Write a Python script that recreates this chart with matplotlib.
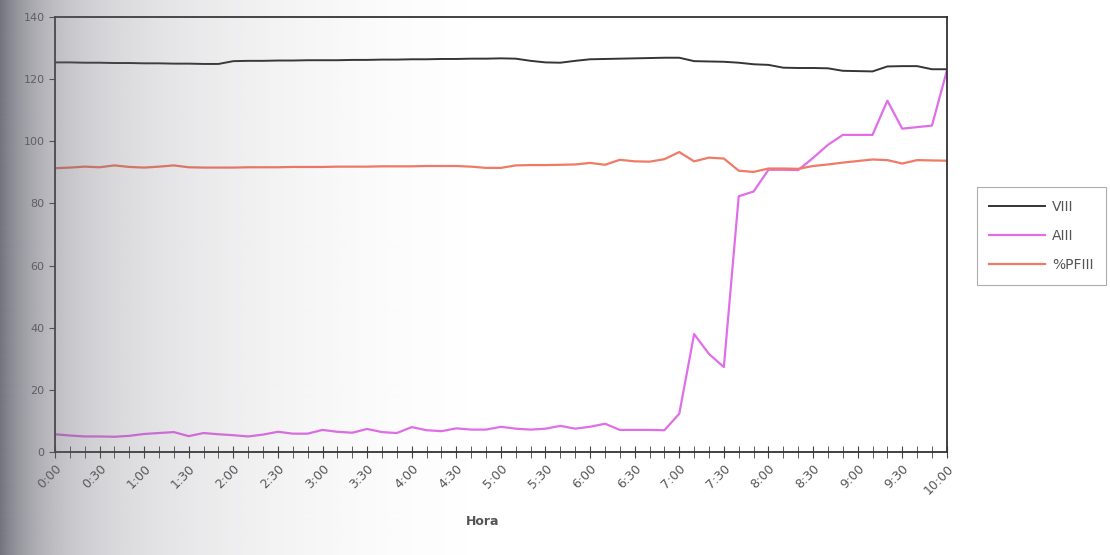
import numpy as np
import matplotlib
matplotlib.use("Agg")
import matplotlib.pyplot as plt

# Categorías: lecturas cada 10 minutos de 0:00 a 10:00
hora = [f"{m // 60}:{m % 60:02d}" for m in range(0, 601, 10)]

v_iii = [125.3, 125.3, 125.2, 125.2, 125.1, 125.1, 125.0, 125.0, 124.9, 124.9,
         124.8, 124.8, 125.7, 125.8, 125.8, 125.9, 125.9, 126.0, 126.0, 126.0,
         126.1, 126.1, 126.2, 126.2, 126.3, 126.3, 126.4, 126.4, 126.5, 126.5,
         126.6, 126.5, 125.8, 125.3, 125.2, 125.8, 126.3, 126.4, 126.5, 126.6,
         126.7, 126.8, 126.8, 125.7, 125.6, 125.5, 125.2, 124.7, 124.5, 123.6,
         123.5, 123.5, 123.4, 122.6, 122.5, 122.4, 124.0, 124.1, 124.1, 123.1,
         123.1]

a_iii = [5.8, 5.4, 5.1, 5.1, 5.0, 5.3, 5.9, 6.2, 6.5, 5.2,
         6.2, 5.8, 5.5, 5.1, 5.7, 6.6, 6.0, 6.0, 7.2, 6.6,
         6.3, 7.5, 6.5, 6.2, 8.1, 7.1, 6.8, 7.7, 7.3, 7.3,
         8.2, 7.6, 7.3, 7.6, 8.5, 7.6, 8.2, 9.2, 7.2, 7.2,
         7.2, 7.1, 12.4, 38.0, 31.6, 27.4, 82.3, 83.8, 90.8, 90.8,
         90.7, 94.6, 98.8, 102.0, 102.0, 102.0, 113.0, 104.0, 104.5, 105.0,
         122.6]

pf_iii = [91.3, 91.5, 91.8, 91.6, 92.2, 91.7, 91.5, 91.8, 92.2, 91.6,
          91.5, 91.5, 91.5, 91.6, 91.6, 91.6, 91.7, 91.7, 91.7, 91.8,
          91.8, 91.8, 91.9, 91.9, 91.9, 92.0, 92.0, 92.0, 91.8, 91.4,
          91.4, 92.2, 92.3, 92.3, 92.4, 92.5, 93.0, 92.4, 94.0, 93.5,
          93.4, 94.2, 96.5, 93.5, 94.7, 94.4, 90.5, 90.1, 91.2, 91.2,
          91.1, 92.0, 92.5, 93.1, 93.6, 94.1, 93.9, 92.8, 93.9, 93.8,
          93.7]

fig = plt.figure(figsize=(11.1, 5.55), dpi=100)
ax = fig.add_axes([0.0495, 0.185, 0.8035, 0.785])

x = np.arange(len(hora))
ax.plot(x, v_iii, color="#353535", lw=1.4, label="VIII")
ax.plot(x, a_iii, color="#e06ee8", lw=1.6, label="AIII")
ax.plot(x, pf_iii, color="#f07a66", lw=1.6, label="%PFIII")

ax.set_xlim(0, len(hora) - 1)
ax.set_ylim(0, 140)
ax.set_yticks(range(0, 141, 20))
ax.tick_params(axis="y", direction="out", length=4, labelsize=8,
               labelcolor="#555555", color="#444444")

ax.set_xticks(x, minor=True)
ax.set_xticks(x[::3])
ax.set_xticklabels(hora[::3], rotation=45, ha="right", va="top",
                   rotation_mode="anchor")
ax.tick_params(axis="x", which="both", direction="inout", length=8,
               color="#444444")
ax.tick_params(axis="x", which="major", labelsize=9, labelcolor="#555555", pad=3)
ax.set_xlabel("Hora", fontsize=9, fontweight="bold", color="#555555")
ax.xaxis.set_label_coords(0.48, -0.145)

for sp in ax.spines.values():
    sp.set_color("#333333")
    sp.set_linewidth(1.3)

leg = ax.legend(loc="center left", bbox_to_anchor=(970 / 1110, 1 - 236 / 555),
                bbox_transform=fig.transFigure, fontsize=10, handlelength=4.0,
                frameon=True, fancybox=False, borderpad=0.9, labelspacing=1.1,
                handletextpad=0.5)
leg.get_frame().set_edgecolor("#999999")
leg.get_frame().set_linewidth(0.8)
for t in leg.get_texts():
    t.set_color("#555555")

# sombra gris del escaneo en el borde izquierdo
ov = fig.add_axes([0, 0, 1, 1], zorder=10)
ov.axis("off")
w, h = 1110, 4
px = np.arange(w)
alpha = 0.55 * np.exp(-px / 40) + 0.36 * np.clip(1 - px / 520, 0, 1) ** 2
shade = np.zeros((h, w, 4))
shade[..., 0] = 0.40
shade[..., 1] = 0.40
shade[..., 2] = 0.45
shade[..., 3] = alpha[None, :]
ov.imshow(shade, extent=(0, 1, 0, 1), aspect="auto", interpolation="bilinear")
ov.set_xlim(0, 1)
ov.set_ylim(0, 1)

fig.savefig("out.png", dpi=100)
